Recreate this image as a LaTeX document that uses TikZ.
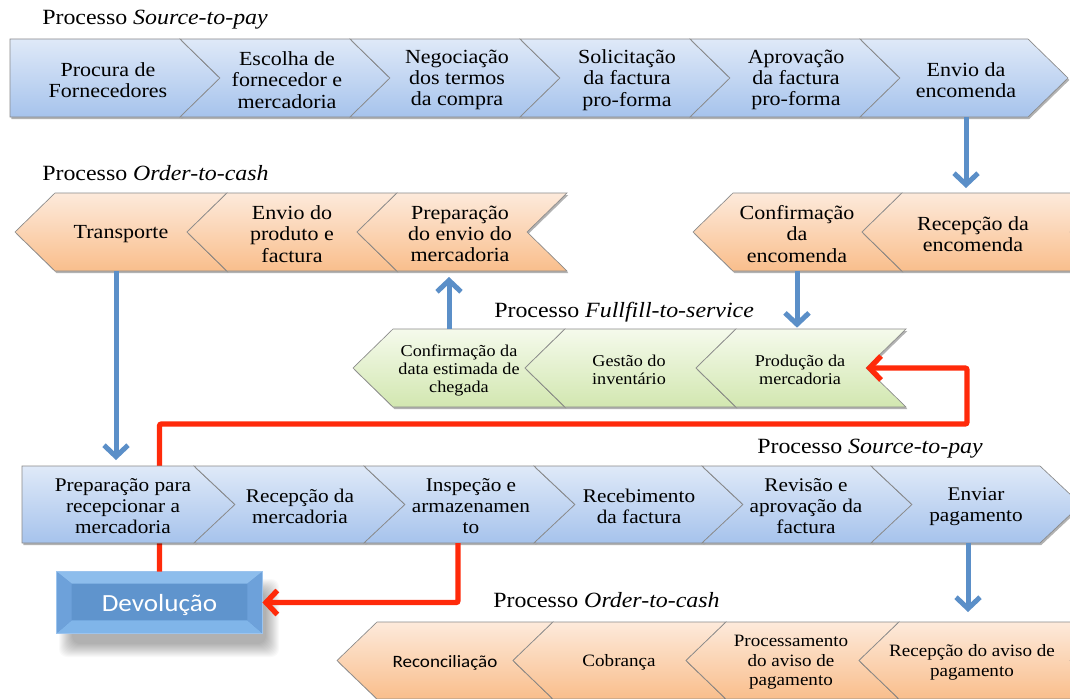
\documentclass[tikz,border=0pt]{standalone}
\usepackage{fontspec}
\setmainfont{Liberation Serif}[FakeStretch=1.1]
\newfontfamily\sansf{Carlito}[FakeStretch=1.1]
\usetikzlibrary{arrows.meta,shadows,calc}
\definecolor{blueT}{HTML}{DFE9F8}
\definecolor{blueB}{HTML}{A6C3EC}
\definecolor{orT}{HTML}{FDEADB}
\definecolor{orB}{HTML}{F9BE8C}
\definecolor{grT}{HTML}{F5FAEC}
\definecolor{grB}{HTML}{D2E7B0}
\definecolor{segborder}{HTML}{8A8A8A}
\definecolor{arrowblue}{HTML}{5B8FC8}
\definecolor{redc}{HTML}{FF2A0A}
\definecolor{devmid}{HTML}{5F94CD}
\definecolor{devtop}{HTML}{8DBDEC}
\definecolor{devbot}{HTML}{80B5E9}
\definecolor{devside}{HTML}{6DA1DA}
\definecolor{devedge}{HTML}{9CC4EE}
\tikzset{
  chev/.style={draw=segborder, line width=0.5pt,
    drop shadow={shadow xshift=1pt, shadow yshift=-1.5pt, opacity=0.3, fill=black}},
  bluefill/.style={top color=blueT, bottom color=blueB},
  orangefill/.style={top color=orT, bottom color=orB},
  greenfill/.style={top color=grT, bottom color=grB},
  rowfill/.style={bluefill},
  segtext/.style={inner sep=0pt, align=center, text=black},
  rowtxt/.style={},
  bigtxt/.style={font=\fontsize{15}{16}\selectfont},
  midtxt/.style={font=\fontsize{14.5}{15.8}\selectfont},
  smalltxt/.style={font=\fontsize{12.4}{13.5}\selectfont},
  lowtxt/.style={font=\fontsize{13}{14.5}\selectfont},
  title/.style={anchor=base west, inner sep=0pt, font=\fontsize{16.3}{18}\selectfont},
  barrow/.style={draw=arrowblue, line width=3.75pt, -{Straight Barb[length=8.5pt,width=18pt]}},
  redline/.style={draw=redc, line width=4pt, rounded corners=1.5pt},
  redarrow/.style={redline, -{Straight Barb[length=8.5pt,width=18pt]}},
  devbox/.style={draw=devedge, line width=0.5pt, fill=devmid, text=white,
    minimum width=153.75pt, minimum height=45.75pt, inner sep=0pt,
    font=\sansf\fontsize{18}{20}\selectfont},
}
\newcommand\rowT{0}
\newcommand\rowB{0}
\newcommand\rowM{0}
\newcommand\setrowy[3]{\renewcommand\rowT{#1}\renewcommand\rowB{#2}\renewcommand\rowM{#3}}
% name, xl, xr, left depth, right depth, text x, text
\newcommand\chevseg[7]{%
  \path[chev,rowfill] (#2,\rowT) -- (#3,\rowT) -- ({#3+(#5)},\rowM) -- (#3,\rowB)
     -- (#2,\rowB) -- ({#2+(#4)},\rowM) -- cycle;
  \coordinate (#1-T) at (#6,\rowT);
  \coordinate (#1-B) at (#6,\rowB);
  \coordinate (#1-L) at ({#2+(#4)},\rowM);
  \coordinate (#1-R) at ({#3+(#5)},\rowM);
  \node[segtext,rowtxt] (#1) at (#6,{\rowM+2}) {#7};
}
\begin{document}
\begin{tikzpicture}[x=0.75pt,y=-0.75pt]
\clip (0,0) rectangle (1070,699);
\fill[white] (0,0) rectangle (1070,699);

% titles
\node[title] (t1) at (42,25) {Processo \textit{Source-to-pay}};
\node[title] (t2) at (42,180) {Processo \textit{Order-to-cash}};
\node[title] (t3) at (494,317) {Processo \textit{Fullfill-to-service}};
\node[title] (t4) at (757,453) {Processo \textit{Source-to-pay}};
\node[title] (t5) at (493,607) {Processo \textit{Order-to-cash}};

% row 1
\setrowy{39}{117}{78}
\tikzset{rowfill/.style={bluefill}, rowtxt/.style={bigtxt}}
\chevseg{a1}{10}{180}{0}{40}{108}{Procura de\\Fornecedores}
\chevseg{a2}{180}{350}{40}{40}{287}{Escolha de\\fornecedor e\\mercadoria}
\chevseg{a3}{350}{520}{40}{40}{457}{Negociação\\dos termos\\da compra}
\chevseg{a4}{520}{690}{40}{40}{627}{Solicitação\\da factura\\pro-forma}
\chevseg{a5}{690}{860}{40}{40}{796}{Aprovação\\da factura\\pro-forma}
\chevseg{a6}{860}{1028}{40}{40}{966}{Envio da\\encomenda}

% row 2
\setrowy{193}{271}{232}
\tikzset{rowfill/.style={orangefill}, rowtxt/.style={bigtxt}}
\chevseg{o1}{55}{227}{-40}{-40}{121}{Transporte}
\chevseg{o2}{227}{397}{-40}{-40}{292}{Envio do\\produto e\\factura}
\chevseg{o3}{397}{567}{-40}{-40}{460}{Preparação\\do envio do\\mercadoria}
\chevseg{o4}{733}{902}{-40}{-40}{797}{Confirmação\\da\\encomenda}
\chevseg{o5}{902}{1110}{-40}{-40}{973}{Recepção da\\encomenda}

% row 3
\setrowy{329}{407}{368}
\tikzset{rowfill/.style={greenfill}, rowtxt/.style={smalltxt}}
\chevseg{g1}{393}{565}{-40}{-40}{459}{Confirmação da\\data estimada de\\chegada}
\chevseg{g2}{565}{736}{-40}{-40}{629}{Gestão do\\inventário}
\chevseg{g3}{736}{906}{-40}{-40}{800}{Produção da\\mercadoria}

% Devolucao (soft shadow, then bevelled box)
\foreach \i in {0,...,13}{
  \fill[black, opacity=0.022, rounded corners=6pt] ({72-\i},{592-\i}) rectangle ({266+\i},{644+\i});
}
\node[devbox] (dev) at (159.5,602.5) {};
\fill[devtop] (dev.north west) -- (dev.north east) -- ($(dev.north east)+(-15,12)$) -- ($(dev.north west)+(15,12)$) -- cycle;
\fill[devbot] (dev.south west) -- (dev.south east) -- ($(dev.south east)+(-15,-13)$) -- ($(dev.south west)+(15,-13)$) -- cycle;
\fill[devside] (dev.north west) -- ($(dev.north west)+(15,12)$) -- ($(dev.south west)+(15,-13)$) -- (dev.south west) -- cycle;
\fill[devside] (dev.north east) -- ($(dev.north east)+(-15,12)$) -- ($(dev.south east)+(-15,-13)$) -- (dev.south east) -- cycle;
\draw[devedge, line width=0.5pt] (dev.north west) rectangle (dev.south east);
\node[text=white, font=\sansf\fontsize{18.5}{20}\selectfont, inner sep=0pt] (devtxt) at ($(dev.center)+(0,3)$) {Devolução};

% red line behind row 4
\coordinate (rc) at (967,424);
\draw[redarrow] (dev.north) -- (dev.north |- rc) -- (rc) -- (rc |- g3-R) -- (g3-R);

% row 4
\setrowy{466}{543}{504.5}
\tikzset{rowfill/.style={bluefill}, rowtxt/.style={midtxt}}
\chevseg{r1}{22}{194}{0}{41}{123}{Preparação para\\recepcionar a\\mercadoria}
\chevseg{r2}{194}{364}{41}{41}{300}{Recepção da\\mercadoria}
\chevseg{r3}{364}{534}{41}{41}{471}{Inspeção e\\armazenamen\\to}
\chevseg{r4}{534}{702}{41}{41}{639}{Recebimento\\da factura}
\chevseg{r5}{702}{871}{41}{41}{806}{Revisão e\\aprovação da\\factura}
\chevseg{r6}{871}{1040}{41}{41}{976}{Enviar\\pagamento}

% red line 2
\draw[redarrow] ([xshift=-9.75pt]r3-B) |- (dev.east);

% row 5
\setrowy{622}{699}{660.5}
\tikzset{rowfill/.style={orangefill}, rowtxt/.style={lowtxt}}
\chevseg{q1}{377}{553}{-40}{-40}{445}{\sansf Reconciliação}
\chevseg{q2}{553}{726}{-40}{-40}{619}{Cobrança}
\chevseg{q3}{726}{899}{-40}{-40}{791}{Processamento\\do aviso de\\pagamento}
\chevseg{q4}{899}{1110}{-40}{-40}{972}{Recepção do aviso de\\pagamento}

% blue arrows
\draw[barrow, shorten >=3.75pt] (a6-B) -- (a6-B |- o5-T);
\draw[barrow, shorten >=1pt] (o4-B) -- (o4-B |- g3-T);
\draw[barrow, shorten >=4.5pt] ([xshift=-7.5pt]g1-T) -- ([xshift=-7.5pt]g1-T |- o3-B);
\draw[barrow, shorten >=4.5pt] ([xshift=-3.75pt]o1-B) -- ([xshift=-3.75pt]o1-B |- r1-T);
\draw[barrow, shorten >=7.5pt] ([xshift=-6pt]r6-B) -- ([xshift=-6pt]r6-B |- q4-T);
\end{tikzpicture}
\end{document}
